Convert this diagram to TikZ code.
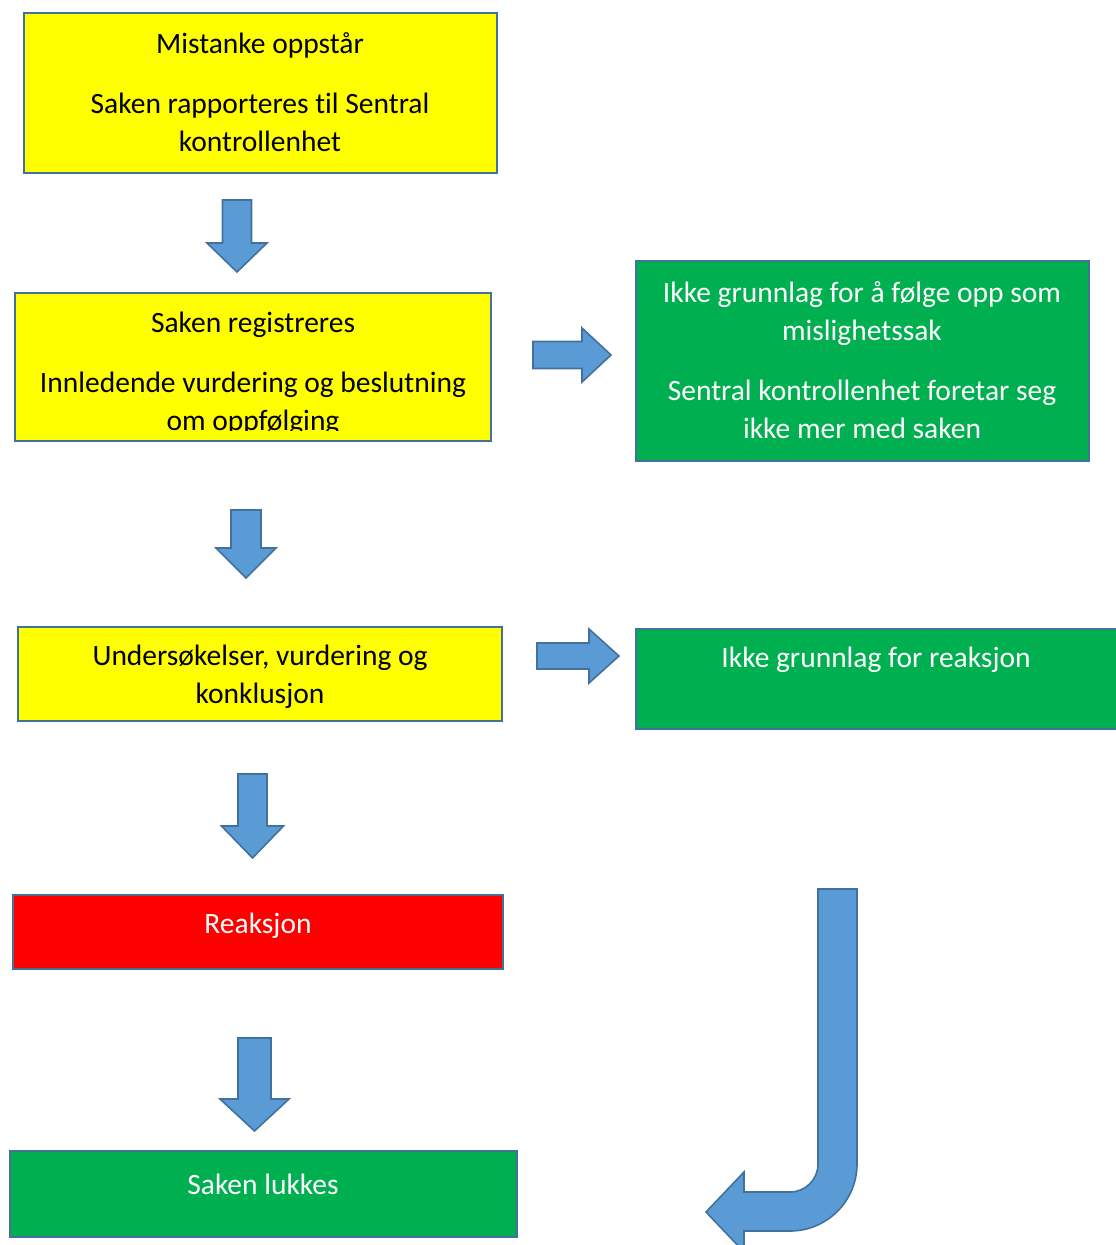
\documentclass[tikz,border=0pt]{standalone}
\usepackage{fontspec}
\setmainfont{Carlito}[Ligatures=NoCommon]
\definecolor{boxline}{HTML}{41719C}
\definecolor{arrowfill}{HTML}{5B9BD5}
\definecolor{okgreen}{HTML}{00B050}
\definecolor{boxyellow}{RGB}{255,255,0}
\definecolor{boxred}{RGB}{255,0,0}
\begin{document}
\begin{tikzpicture}[x=1pt, y=-1pt,
        box/.style={draw=boxline, line width=1.6pt},
        blockarrow/.style={draw=boxline, line width=1.6pt, fill=arrowfill, line join=miter},
        txt/.style={align=center, inner sep=0pt, font=\fontsize{29.5}{38}\selectfont},
        whitetxt/.style={txt, text=white}]
            \useasboundingbox (0, 0) rectangle (1116, 1245);

            % boxes
            \draw [box, fill=boxyellow] (24, 13) rectangle (497, 173);
            \draw [box, fill=boxyellow] (15, 293) rectangle (491, 441);
            \draw [box, fill=okgreen] (636, 261) rectangle (1089, 461);
            \draw [box, fill=boxyellow] (18, 627) rectangle (502, 721);
            \draw [box, fill=okgreen] (636, 629) rectangle (1125, 729);
            \draw [box, fill=boxred] (13, 895) rectangle (503, 969);
            \draw [box, fill=okgreen] (10, 1151) rectangle (517, 1237);

            \node [txt] (suspicion) at (260, 92)
                {Mistanke oppstår\\[22pt] Saken rapporteres til Sentral\\ kontrollenhet};
            \begin{scope}
                \clip (15, 293) rectangle (491, 430);
                \node [txt] (registered) at (253, 374)
                    {Saken registreres\\[22pt] Innledende vurdering og beslutning\\ om oppfølging};
            \end{scope}
            \node [whitetxt] (no basis) at (862, 360)
                {Ikke grunnlag for å følge opp som\\ mislighetssak\\[22pt]
                 Sentral kontrollenhet foretar seg\\ ikke mer med saken};
            \node [txt] (investigation) at (260, 677)
                {Undersøkelser, vurdering og\\ konklusjon};
            \node [whitetxt] (no reaction) at (876, 660) {Ikke grunnlag for reaksjon};
            \node [whitetxt] (reaction) at (258, 926) {Reaksjon};
            \node [whitetxt] (closed) at (263, 1184) {Saken lukkes};

            % down arrows: centre / shaft half width / head half width / top / head / tip
            \foreach \cx/\sw/\hw/\yt/\yh/\yb in {237/14.5/30/200/243/272, 246/15/30/510/548/578,
                                                 252.5/14.5/31/774/826/858, 254.5/16.5/34.5/1038/1099/1131}
                {
                    \draw [blockarrow] (\cx-\sw, \yt) -- (\cx+\sw, \yt) -- (\cx+\sw, \yh) -- (\cx+\hw, \yh)
                        -- (\cx, \yb) -- (\cx-\hw, \yh) -- (\cx-\sw, \yh) -- cycle;
                }

            % right arrows: centre / shaft half width / head half width / left / head / tip
            \foreach \cy/\sw/\hw/\xl/\xh/\xr in {355/13.5/27/533/582/611, 656/13/27/537/589/619}
                {
                    \draw [blockarrow] (\xl, \cy-\sw) -- (\xh, \cy-\sw) -- (\xh, \cy-\hw) -- (\xr, \cy)
                        -- (\xh, \cy+\hw) -- (\xh, \cy+\sw) -- (\xl, \cy+\sw) -- cycle;
                }

            % bent arrow
            \draw [blockarrow] (818, 889) -- (857, 889) -- (857, 1164)
                .. controls (857, 1201) and (827, 1231) .. (790, 1231)
                -- (744, 1231) -- (744, 1252) -- (706, 1212) -- (744, 1172) -- (744, 1192) -- (790, 1192)
                .. controls (805.5, 1192) and (818, 1179.5) .. (818, 1164) -- cycle;
    \end{tikzpicture}
\end{document}
